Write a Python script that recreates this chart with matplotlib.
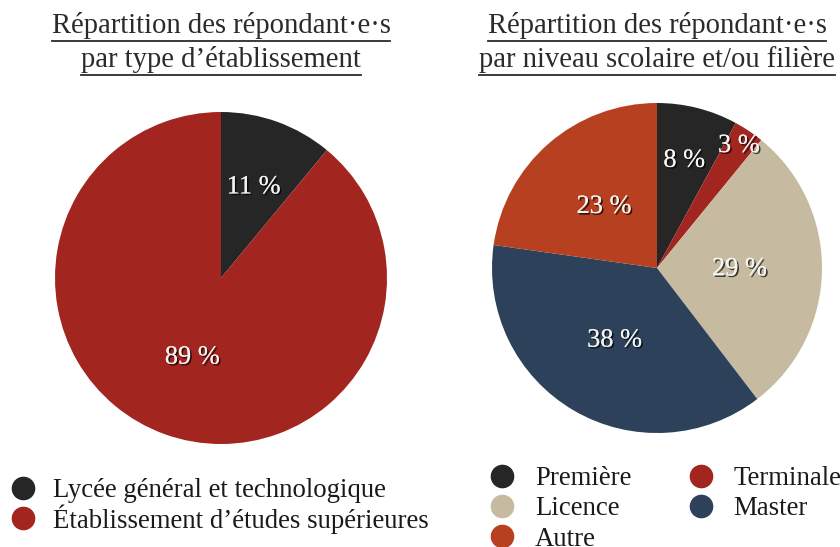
import numpy as np
import matplotlib
matplotlib.use('Agg')
import matplotlib.pyplot as plt
import matplotlib.patheffects as pe
from matplotlib.lines import Line2D

plt.rcParams['font.family'] = ['Liberation Serif', 'DejaVu Serif']

# données
etab_labels = ['Lycée général et technologique', 'Établissement d’études supérieures']
etab_values = [11, 89]
etab_colors = ['#262626', '#a3251f']
etab_pctdist = [0.58, 0.51]

niveau_labels = ['Première', 'Terminale', 'Licence', 'Master', 'Autre']
niveau_values = [8, 3, 29, 38, 23]
niveau_colors = ['#262626', '#a3251f', '#c6bba1', '#2d425a', '#b6401f']
niveau_pctdist = [0.67, 0.89, 0.50, 0.51, 0.49]

title_left = ['Répartition des répondant·e·s', 'par type d’établissement']
title_right = ['Répartition des répondant·e·s', 'par niveau scolaire et/ou filière']

W, H = 840, 547
fig = plt.figure(figsize=(W / 100, H / 100), dpi=100)


def draw_pie(rect, values, colors, pctdist):
    ax = fig.add_axes(rect)
    wedges, _ = ax.pie(values, colors=colors, startangle=90, counterclock=False,
                       radius=1, wedgeprops=dict(linewidth=0))
    for w, v, d in zip(wedges, values, pctdist):
        ang = np.deg2rad((w.theta1 + w.theta2) / 2)
        ax.text(d * np.cos(ang), d * np.sin(ang), f'{v} %', ha='center', va='center',
                fontsize=19, color='#f4f4f4',
                path_effects=[pe.withSimplePatchShadow(offset=(1.2, -1.2), shadow_rgbFace='black', alpha=0.7),
                              pe.Normal()])
    ax.set_xlim(-1, 1)
    ax.set_ylim(-1, 1)
    ax.axis('off')
    return ax


draw_pie([55 / W, 103 / H, 332 / W, 332 / H], etab_values, etab_colors, etab_pctdist)
draw_pie([492 / W, 114 / H, 330 / W, 330 / H], niveau_values, niveau_colors, niveau_pctdist)

# titres soulignés
renderer = fig.canvas.get_renderer()
for lines, cx in [(title_left, 221), (title_right, 657)]:
    for line, base in zip(lines, [33, 67]):
        t = fig.text(cx / W, 1 - base / H, line, ha='center', va='baseline',
                     fontsize=20.6, color='#2b2b2b')
        bb = t.get_window_extent(renderer)
        y = (bb.y0 - 1.5) / H
        fig.add_artist(Line2D([bb.x0 / W, bb.x1 / W], [y, y], color='#2b2b2b', lw=1.3))


def handles(labels, colors):
    return [Line2D([], [], marker='o', ls='', markersize=16, color=c, label=l)
            for l, c in zip(labels, colors)]


fs = 19.3
fig.legend(handles=handles(etab_labels, etab_colors), loc='upper left',
           bbox_to_anchor=(9.6 / W, 1 - 478 / H), frameon=False, fontsize=fs,
           handlelength=1.0, handletextpad=0.62, labelspacing=0.05, borderpad=0,
           borderaxespad=0, labelcolor='#1a1a1a')

order = [0, 2, 4, 1, 3]
hs = handles(niveau_labels, niveau_colors)
fig.legend(handles=[hs[i] for i in order], loc='upper left', ncol=2,
           bbox_to_anchor=(489 / W, 1 - 466 / H), frameon=False, fontsize=fs,
           handlelength=1.0, handletextpad=0.72, labelspacing=0.2, borderpad=0,
           borderaxespad=0, columnspacing=2.09, labelcolor='#1a1a1a')

fig.savefig('out.png', dpi=100)
